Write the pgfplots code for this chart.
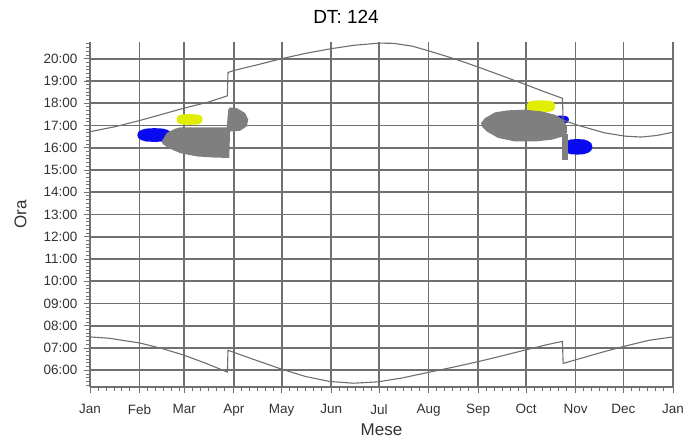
\documentclass[border=0pt]{standalone}
\usepackage{fontspec}
\setmainfont{Liberation Sans}
\usepackage{pgfplots}
\pgfplotsset{compat=1.18}

\definecolor{gridc}{HTML}{707070}
\definecolor{curvec}{HTML}{6E6E6E}
\definecolor{blobgray}{HTML}{7F7F7F}
\definecolor{blobblue}{HTML}{0A0AF0}
\definecolor{blobyel}{HTML}{E2EE00}
\definecolor{tickc}{HTML}{333333}

\begin{document}
\begin{tikzpicture}
\begin{axis}[
  scale only axis,
  width=583pt, height=345pt,
  xmin=0, xmax=365, ymin=5.25, ymax=20.75,
  axis x line*=bottom, axis y line*=left,
  axis line style={gridc, line width=1.6pt},
  tick align=outside,
  major tick length=6pt, minor tick length=4pt,
  tick style={gridc, line width=0.9pt},
  grid=major,
  major grid style={gridc, line width=1.7pt},
  xtick={0,31,59,90,120,151,181,212,243,273,304,334,365},
  xticklabels={Jan,Feb,Mar,Apr,May,Jun,Jul,Aug,Sep,Oct,Nov,Dec,Jan},
  minor xtick={5,10,15,20,25,36,41,46,51,56,64,69,74,79,84,
    95,100,105,110,115,125,130,135,140,145,156,161,166,171,176,
    186,191,196,201,206,217,222,227,232,237,248,253,258,263,268,
    278,283,288,293,298,309,314,319,324,329,339,344,349,354,359},
  ytick={6,...,20},
  yticklabels={06:00,07:00,08:00,09:00,10:00,11:00,12:00,13:00,14:00,15:00,16:00,17:00,18:00,19:00,20:00},
  minor ytick={5.33333,5.5,...,20.7},
  tick label style={font=\fontsize{13.5}{16}\selectfont, text=tickc},
  xticklabel style={yshift=-8pt},
  yticklabel style={xshift=-3pt},
  xlabel={Mese}, ylabel={Ora},
  label style={font=\fontsize{17}{20}\selectfont, text=tickc},
  x label style={at={(axis description cs:0.5,-0.125)}, anchor=center},
  y label style={at={(axis description cs:-0.119,0.5)}, anchor=center},
  no markers,
]

% --- blue blobs (drawn first, under the others)
\addplot[draw=none, fill=blobblue] coordinates {
  (51.2,16.57) (50.6,16.7) (48.6,16.8) (45.6,16.86) (40.4,16.88)
  (35.2,16.86) (32.2,16.8) (30.2,16.7) (29.6,16.57) (30.2,16.44)
  (32.2,16.34) (35.2,16.28) (40.4,16.26) (45.6,16.28) (48.6,16.34) (50.6,16.44)
} -- cycle;
\addplot[draw=none, fill=blobblue] coordinates {
  (299.8,17.26) (299.5,17.35) (298.7,17.404) (297.05,17.431) (294.3,17.44)
  (291.55,17.431) (289.9,17.404) (289.08,17.35) (288.8,17.26) (289.08,17.17)
  (289.9,17.116) (291.55,17.089) (294.3,17.08) (297.05,17.089) (298.7,17.116) (299.5,17.17)
} -- cycle;
\addplot[draw=none, fill=blobblue] coordinates {
  (314.5,16.04) (313.9,16.2) (312.0,16.3) (309.3,16.37) (305.1,16.39)
  (300.9,16.37) (298.2,16.3) (296.3,16.2) (295.7,16.04) (296.3,15.88)
  (298.2,15.78) (300.9,15.71) (305.1,15.69) (309.3,15.71) (312.0,15.78) (313.9,15.88)
} -- cycle;

% --- yellow blobs
\addplot[draw=none, fill=blobyel] coordinates {
  (70.5,17.27) (70.1,17.39) (68.9,17.462) (66.45,17.498) (62.4,17.51)
  (58.35,17.498) (55.9,17.462) (54.7,17.39) (54.3,17.27) (54.7,17.15)
  (55.9,17.078) (58.35,17.042) (62.4,17.03) (66.45,17.042) (68.9,17.078) (70.1,17.15)
} -- cycle;
\addplot[draw=none, fill=blobyel] coordinates {
  (291.2,17.86) (290.76,17.995) (289.42,18.076) (286.75,18.117) (282.3,18.13)
  (277.85,18.117) (275.18,18.076) (273.85,17.995) (273.4,17.86) (273.85,17.725)
  (275.18,17.644) (277.85,17.603) (282.3,17.59) (286.75,17.603) (289.42,17.644) (290.76,17.725)
} -- cycle;

% --- gray blobs
\addplot[draw=none, fill=blobgray] coordinates {
  (44.9,16.28) (48.0,16.66) (53.2,16.85) (56.4,16.91) (85.6,16.91)
  (86.1,17.35) (86.6,17.71) (87.7,17.81) (91.9,17.78) (97.1,17.56)
  (99.1,17.26) (98.1,16.96) (93.9,16.76) (87.7,16.73) (87.2,15.54)
  (77.2,15.56) (66.8,15.61) (56.4,15.76) (49.0,15.99) (45.5,16.17)
} -- cycle;
\addplot[draw=none, fill=blobgray] coordinates {
  (244.8,17.11) (247.3,17.33) (253.6,17.59) (261.7,17.68) (272.4,17.71)
  (282.8,17.63) (291.2,17.48) (296.2,17.26) (298.5,16.96) (298.5,16.66)
  (296.2,16.51) (289.1,16.36) (278.6,16.28) (266.1,16.28) (255.5,16.44)
  (248.4,16.73) (245.5,16.94)
} -- cycle;
\addplot[draw=none, fill=blobgray] coordinates {
  (295.8,16.6) (299.2,16.6) (299.2,15.46) (295.8,15.46)
} -- cycle;

% --- sunset
\addplot[curvec, line width=1.1pt] coordinates {
  (0,16.72) (16,16.95) (31,17.22) (46,17.52) (59,17.78) (74,18.05) (86,18.33)
  (86.4,19.38) (90,19.47) (105,19.73) (120,20.0) (135,20.24) (151,20.45)
  (165,20.6) (181,20.7) (190,20.69) (202,20.56) (213,20.33) (228,20.0)
  (244,19.6) (258,19.23) (273,18.83) (285,18.5) (295.8,18.22) (296.2,17.24)
  (305,17.02) (322,16.67) (335,16.52) (345,16.48) (355,16.55) (365,16.7)
};
% --- sunrise
\addplot[curvec, line width=1.1pt] coordinates {
  (0,7.5) (12,7.44) (31,7.23) (45,6.98) (58,6.7) (72,6.33) (86,5.92)
  (86.4,6.9) (100,6.55) (120,6.05) (135,5.72) (150,5.5) (165,5.42)
  (180,5.48) (195,5.65) (212,5.91) (228,6.15) (243,6.39) (258,6.65)
  (273,6.92) (286,7.15) (295.8,7.3) (296.2,6.31) (305,6.49) (320,6.8)
  (334,7.07) (350,7.35) (365,7.5)
};
\end{axis}

\node[font=\fontsize{19}{22}\selectfont] at ([xshift=256pt,yshift=370pt]current axis.south west) {DT: 124};

\pgfresetboundingbox
\path[use as bounding box] ([xshift=-90pt,yshift=-52pt]current axis.south west)
  rectangle ([xshift=27pt,yshift=42pt]current axis.north east);
\end{tikzpicture}
\end{document}
